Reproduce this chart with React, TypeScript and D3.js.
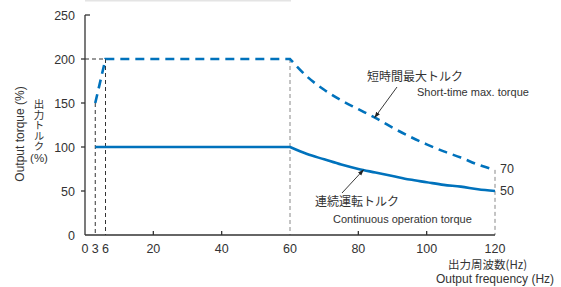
// Output torque vs output frequency: short-time max (dashed) and continuous (solid).
import React, { useRef, useEffect } from 'react';
import * as d3 from 'd3';

const W = 561;
const H = 287;

const yTicks = [0, 50, 100, 150, 200, 250];
const xTickLabels = [0, 3, 6, 20, 40, 60, 80, 100, 120];
const xTickMarks = [20, 40, 80, 100];

// flat / ramp part (straight segments)
const shortFlat: [number, number][] = [[3, 150], [6, 200], [60, 200]];
const contFlat: [number, number][] = [[3, 100], [60, 100]];

// falling part above base frequency
const shortFreq = [60, 65, 70, 75, 80, 85, 90, 95, 100, 105, 110, 115, 120];
const shortTorque = [200, 180, 165, 153, 143, 133, 122, 112, 103, 95, 88, 80, 74];
const contFreq = [60, 65, 70, 75, 80, 85, 90, 95, 100, 105, 110, 115, 120];
const contTorque = [100, 92, 86, 80, 75, 71, 67, 63, 60, 57, 55, 52, 50];

const BLUE = '#0072bc';
const SANS = '"Liberation Sans", Arial, sans-serif';
const CJK = '"Noto Sans CJK JP", sans-serif';

export default function App() {
  const ref = useRef<SVGSVGElement>(null);

  useEffect(() => {
    const svg = d3.select(ref.current);
    svg.selectAll('*').remove();

    const x = d3.scaleLinear().domain([0, 120]).range([85, 495]);
    const y = d3.scaleLinear().domain([0, 250]).range([235, 15]);

    // faint header rule
    svg.append('rect').attr('x', 85).attr('y', 0).attr('width', 206).attr('height', 1.5).attr('fill', '#e4e4e4');

    const defs = svg.append('defs');
    defs
      .append('marker')
      .attr('id', 'arr')
      .attr('viewBox', '0 0 10 10')
      .attr('refX', 9)
      .attr('refY', 5)
      .attr('markerWidth', 7)
      .attr('markerHeight', 7)
      .attr('orient', 'auto')
      .append('path')
      .attr('d', 'M0,1.5 L10,5 L0,8.5 z')
      .attr('fill', '#222');

    // guide lines
    const guide = (x1: number, y1: number, x2: number, y2: number, color: string) =>
      svg
        .append('line')
        .attr('x1', x(x1))
        .attr('y1', y(y1))
        .attr('x2', x(x2))
        .attr('y2', y(y2))
        .attr('stroke', color)
        .attr('stroke-width', 1)
        .attr('stroke-dasharray', '4,3');
    guide(3, 150, 3, 0, '#333');
    guide(6, 200, 6, 0, '#333');
    guide(0, 200, 6, 200, '#333');
    guide(60, 200, 60, 0, '#888');
    guide(120, shortTorque[shortTorque.length - 1], 120, 0, '#888');

    // axes
    const ax = svg.append('g').attr('stroke', '#333').attr('stroke-width', 1.3);
    ax.append('line').attr('x1', x(0)).attr('x2', x(0)).attr('y1', y(250)).attr('y2', y(0));
    ax.append('line').attr('x1', x(0)).attr('x2', x(120)).attr('y1', y(0)).attr('y2', y(0));
    yTicks.forEach((t) => {
      if (t === 250) {
        ax.append('line').attr('x1', x(0)).attr('x2', x(0) + 5).attr('y1', y(t)).attr('y2', y(t));
      } else if (t > 0) {
        ax.append('line').attr('x1', x(0) - 4).attr('x2', x(0)).attr('y1', y(t)).attr('y2', y(t));
      }
    });
    xTickMarks.forEach((t) => {
      ax.append('line').attr('x1', x(t)).attr('x2', x(t)).attr('y1', y(0)).attr('y2', y(0) - 4);
    });

    svg
      .append('g')
      .selectAll('text')
      .data(yTicks)
      .enter()
      .append('text')
      .attr('x', 75)
      .attr('y', (d) => y(d) + 4.5)
      .attr('text-anchor', 'end')
      .attr('font-family', SANS)
      .attr('font-size', 12.5)
      .attr('fill', '#333')
      .text((d) => d);
    svg
      .append('g')
      .selectAll('text')
      .data(xTickLabels)
      .enter()
      .append('text')
      .attr('x', (d) => x(d))
      .attr('y', 252.5)
      .attr('text-anchor', 'middle')
      .attr('font-family', SANS)
      .attr('font-size', 12.5)
      .attr('fill', '#333')
      .text((d) => d);

    // series
    const straight = d3
      .line<[number, number]>()
      .x((d) => x(d[0]))
      .y((d) => y(d[1]));
    const smooth = d3
      .line<[number, number]>()
      .x((d) => x(d[0]))
      .y((d) => y(d[1]))
      .curve(d3.curveMonotoneX);

    const shortPts = shortFreq.map((f, i) => [f, shortTorque[i]] as [number, number]);
    const contPts = contFreq.map((f, i) => [f, contTorque[i]] as [number, number]);

    const shortD = straight(shortFlat)! + smooth(shortPts)!.replace(/^M/, 'L');
    const contD = straight(contFlat)! + smooth(contPts)!.replace(/^M/, 'L');

    svg
      .append('path')
      .attr('d', shortD)
      .attr('fill', 'none')
      .attr('stroke', BLUE)
      .attr('stroke-width', 2.6)
      .attr('stroke-dasharray', '9,6');
    svg
      .append('path')
      .attr('d', contD)
      .attr('fill', 'none')
      .attr('stroke', BLUE)
      .attr('stroke-width', 2.6);

    // annotations
    const arrow = (fx: number, fy: number, tx: number, ty: number) =>
      svg
        .append('line')
        .attr('x1', fx)
        .attr('y1', fy)
        .attr('x2', tx)
        .attr('y2', ty)
        .attr('stroke', '#222')
        .attr('stroke-width', 0.9)
        .attr('marker-end', 'url(#arr)');
    arrow(397, 87, x(84.8), y(133.5));
    arrow(342, 193, x(81.5), y(74));

    const label = (tx: number, ty: number, s: string, font: string, size: number, anchor = 'start') =>
      svg
        .append('text')
        .attr('x', tx)
        .attr('y', ty)
        .attr('text-anchor', anchor)
        .attr('font-family', font)
        .attr('font-size', size)
        .attr('fill', '#333')
        .text(s);

    label(367, 81, '短時間最大トルク', CJK, 12);
    label(417, 96, 'Short-time max. torque', SANS, 11);
    label(315, 206, '連続運転トルク', CJK, 12);
    label(333, 223, 'Continuous operation torque', SANS, 11);
    label(500, 173, '70', SANS, 12.5);
    label(500, 195, '50', SANS, 12.5);
    label(448, 269, '出力周波数(Hz)', CJK, 11.5);
    label(436, 283, 'Output frequency (Hz)', SANS, 12);

    // y axis titles
    svg
      .append('text')
      .attr('transform', 'translate(24,134) rotate(-90)')
      .attr('text-anchor', 'middle')
      .attr('font-family', SANS)
      .attr('font-size', 12)
      .attr('fill', '#333')
      .text('Output torque (%)');
    // vertical Japanese title, one text in upright vertical writing
    svg
      .append('text')
      .attr('x', 39)
      .attr('y', 99)
      .attr('font-family', CJK)
      .attr('font-size', 10.5)
      .attr('fill', '#333')
      .style('writing-mode', 'vertical-rl')
      .style('text-orientation', 'upright')
      .text('出力トルク');
    label(39, 162, '(%)', SANS, 11.5, 'middle');
  }, []);

  return (
    <svg
      ref={ref}
      width={W}
      height={H}
      style={{ position: 'absolute', left: 0, top: 0, background: '#fff' }}
    />
  );
}
